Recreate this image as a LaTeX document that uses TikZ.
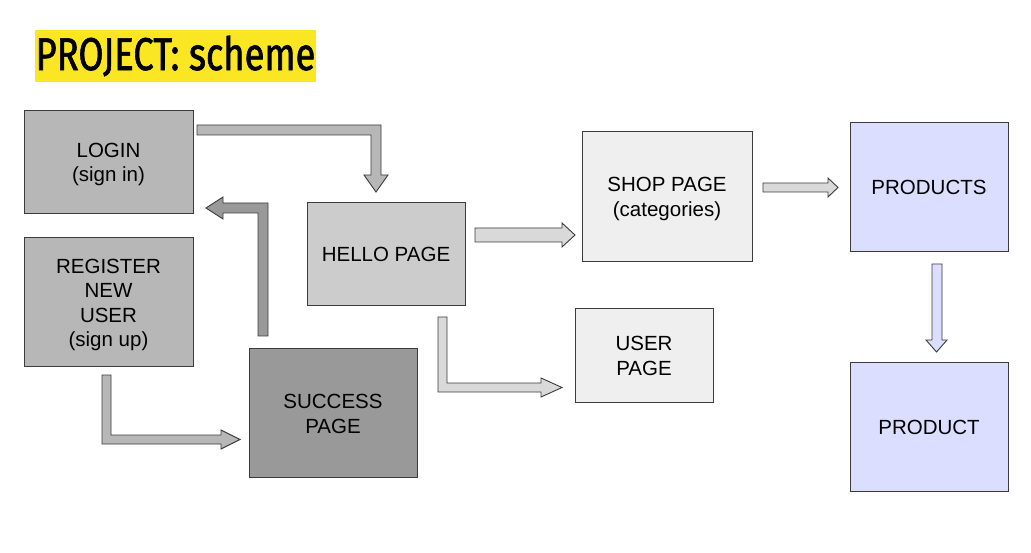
\documentclass[tikz,border=0pt]{standalone}
\usepackage{fontspec}
\setmainfont{Liberation Sans}
\newfontfamily\titlefont[FakeStretch=0.79, FakeBold=1.3]{Fira Sans}
\definecolor{boxline}{HTML}{3C3C3C}
\definecolor{greyA}{HTML}{B7B7B7}
\definecolor{greyB}{HTML}{CCCCCC}
\definecolor{greyC}{HTML}{999999}
\definecolor{greyD}{HTML}{EFEFEF}
\definecolor{arrowlight}{HTML}{D9D9D9}
\definecolor{lavender}{HTML}{DCDEFF}
\definecolor{titlebg}{HTML}{FAE622}
\tikzset{
  pagebox/.style={draw=boxline, line width=0.9pt, inner sep=0pt},
  pagetext/.style={align=center, inner sep=0pt,
    font=\fontsize{20.5}{24.6}\selectfont},
  blockarrow/.style={draw=boxline, line width=0.9pt, line join=miter}
}
\begin{document}
\begin{tikzpicture}[x=1pt,y=-1pt]
  \fill[white] (0,0) rectangle (1031,553);
  \useasboundingbox (0,0) rectangle (1031,553);

  % title banner
  \fill[titlebg] (35,30) rectangle (316,82);
  \node[anchor=center, inner sep=0pt] (title) at (175.5,56)
    {\titlefont\fontsize{46}{46}\selectfont PROJECT: scheme};

  % pages
  \node[pagebox, fill=greyA, minimum width=169, minimum height=103] (login) at (108.5,161.5) {};
  \node[pagebox, fill=greyA, minimum width=169, minimum height=129] (register) at (108.5,301.5) {};
  \node[pagebox, fill=greyB, minimum width=158, minimum height=103] (hello) at (386,253.5) {};
  \node[pagebox, fill=greyC, minimum width=168, minimum height=129] (success) at (333,412.5) {};
  \node[pagebox, fill=greyD, minimum width=170, minimum height=130] (shop) at (667,196) {};
  \node[pagebox, fill=greyD, minimum width=138, minimum height=94] (user) at (644,355) {};
  \node[pagebox, fill=lavender, minimum width=158, minimum height=129] (products) at (929,186.5) {};
  \node[pagebox, fill=lavender, minimum width=158, minimum height=129] (product) at (929,426.5) {};

  % page captions
  \node[pagetext, yshift=-3pt] (loginT) at (login) {LOGIN\\(sign in)};
  \node[pagetext, yshift=-3.5pt] (registerT) at (register) {REGISTER\\NEW\\USER\\(sign up)};
  \node[pagetext, yshift=-1pt] (helloT) at (hello) {HELLO PAGE};
  \node[pagetext, yshift=-1.5pt] (successT) at (success) {SUCCESS\\PAGE};
  \node[pagetext, yshift=-3pt] (shopT) at (shop) {SHOP PAGE\\(categories)};
  \node[pagetext, yshift=-1pt] (userT) at (user) {USER\\PAGE};
  \node[pagetext, yshift=-1pt] (productsT) at (products) {PRODUCTS};
  \node[pagetext, yshift=-1pt] (productT) at (product) {PRODUCT};

  % block arrows between pages
  % login -> hello
  \draw[blockarrow, fill=greyA] (197,125) -- (381,125) -- (381,175) -- (388,175) -- (376,192)
    -- (364,175) -- (371,175) -- (371,135) -- (197,135) -- cycle;
  % success -> login
  \draw[blockarrow, fill=greyC] (268,336) -- (268,203) -- (223,203) -- (223,197) -- (206,208)
    -- (223,219) -- (223,213) -- (258,213) -- (258,336) -- cycle;
  % register -> success
  \draw[blockarrow, fill=greyA] (102,375) -- (111,375) -- (111,435) -- (221,435) -- (221,430)
    -- (240,439.5) -- (221,449) -- (221,444) -- (102,444) -- cycle;
  % hello -> user
  \draw[blockarrow, fill=arrowlight] (438,317) -- (447,317) -- (447,383) -- (541,383) -- (541,378)
    -- (562,387.5) -- (541,397) -- (541,392) -- (438,392) -- cycle;
  % hello -> shop
  \draw[blockarrow, fill=arrowlight] (475,228) -- (562,228) -- (562,223) -- (575,235)
    -- (562,247) -- (562,242) -- (475,242) -- cycle;
  % shop -> products
  \draw[blockarrow, fill=arrowlight] (763,183) -- (828,183) -- (828,178) -- (838,187.5)
    -- (828,197) -- (828,192) -- (763,192) -- cycle;
  % products -> product
  \draw[blockarrow, fill=lavender] (932,264) -- (942,264) -- (942,340) -- (947,340) -- (936.5,352)
    -- (926,340) -- (932,340) -- cycle;
\end{tikzpicture}
\end{document}
